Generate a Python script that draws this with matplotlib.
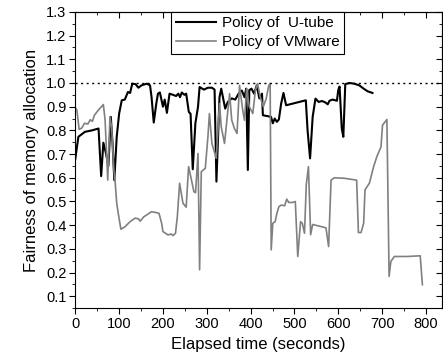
import matplotlib
matplotlib.use("Agg")
import matplotlib.pyplot as plt
from matplotlib.ticker import MultipleLocator

plt.rcParams['font.family'] = ['Liberation Sans', 'DejaVu Sans']

# Policy of U-tube (black)
utube_x = [0, 7, 22, 38, 53, 59, 64, 70, 75.5, 81, 85, 89, 94.5, 100, 106, 113, 120, 125, 130,
           137.5, 144, 151, 163, 170.5, 174, 179, 185, 188.6, 193, 200, 204, 209, 215, 223,
           230, 235, 239, 243, 249, 253, 259, 263, 268, 274, 280, 283.6, 293.5, 302.6, 311.7,
           317.8, 322, 329, 333, 342, 348, 357, 365, 372.6, 380, 386, 390, 393.7, 397, 402,
           408, 414, 420, 426, 428, 439, 446.6, 450.6, 455, 460, 464.5, 469.7, 475, 481, 496,
           511, 526, 530, 535.7, 541.6, 548, 555.4, 563, 570.5, 576, 580, 587, 597, 600, 603,
           608, 611.6, 616, 625, 636.6, 648, 658, 667, 678]
utube_y = [0.68, 0.773, 0.794, 0.80, 0.808, 0.607, 0.748, 0.703, 0.65, 0.857, 0.745, 0.59, 0.773,
           0.871, 0.927, 0.93, 0.962, 0.958, 0.997, 0.995, 0.98, 0.99, 0.997, 0.99, 0.94,
           0.833, 0.916, 0.955, 0.96, 0.90, 0.93, 0.874, 0.955, 0.95, 0.945, 0.955, 0.94,
           0.96, 0.95, 0.955, 0.878, 0.87, 0.636, 0.83, 0.90, 0.983, 0.972, 0.98, 0.98, 0.972,
           0.584, 0.94, 0.976, 0.892, 0.92, 0.935, 0.93, 0.955, 0.968, 0.94, 0.976, 0.633,
           0.97, 0.976, 0.955, 0.99, 0.935, 0.955, 0.864, 0.86, 0.857, 0.83, 0.85, 0.836,
           0.846, 0.913, 0.958, 0.906, 0.913, 0.92, 0.927, 0.80, 0.682, 0.857, 0.934, 0.92,
           0.924, 0.918, 0.91, 0.925, 0.93, 0.925, 0.97, 0.985, 0.808, 0.773, 0.995, 1.0,
           0.997, 0.99, 0.976, 0.965, 0.958]

# Policy of VMware (gray)
vmware_x = [0, 3.6, 8.7, 14.7, 21, 28.6, 34, 39, 43.6, 52.8, 64, 68, 74, 79, 83, 88, 90.6, 94.5,
            98, 104, 113, 125, 136.6, 144, 148, 156, 174, 185, 191, 197, 200, 211.6, 219, 223,
            228.6, 232.8, 238, 245.6, 253, 258.5, 264, 270.6, 274.4, 280, 283.6, 287.5, 296.6,
            302.6, 306, 311.7, 321.6, 329, 333, 340.5, 346.6, 352, 357, 363, 369, 374.7, 382,
            386, 391, 397, 405, 411, 416, 422, 429, 435.6, 441.5, 444.6, 447, 450.6, 456, 460,
            464.5, 470, 477.6, 482.5, 487, 496, 502, 507.6, 514, 518, 523, 527, 532, 537,
            541.6, 556.8, 572, 578, 583.6, 591, 614, 642, 646, 652, 658, 661, 671, 680.7, 688,
            697.5, 701, 711, 716, 720, 728, 758, 787, 792]
vmware_y = [0.896, 0.886, 0.804, 0.81, 0.83, 0.827, 0.845, 0.838, 0.864, 0.886, 0.909, 0.843,
            0.59, 0.857, 0.81, 0.633, 0.59, 0.493, 0.45, 0.383, 0.393, 0.415, 0.43, 0.427,
            0.417, 0.435, 0.457, 0.453, 0.45, 0.408, 0.373, 0.359, 0.363, 0.356, 0.366, 0.436,
            0.577, 0.493, 0.476, 0.647, 0.60, 0.541, 0.537, 0.703, 0.212, 0.626, 0.64, 0.773,
            0.871, 0.745, 0.682, 0.913, 0.815, 0.745, 0.857, 0.955, 0.843, 0.808, 0.787, 0.99,
            0.885, 0.843, 0.976, 0.90, 0.871, 0.97, 0.997, 0.94, 0.90, 0.934, 0.99, 0.997,
            0.296, 0.408, 0.415, 0.45, 0.478, 0.485, 0.482, 0.51, 0.496, 0.496, 0.50, 0.268,
            0.415, 0.408, 0.366, 0.57, 0.647, 0.36, 0.403, 0.396, 0.389, 0.31, 0.59, 0.60,
            0.598, 0.59, 0.369, 0.369, 0.408, 0.549, 0.577, 0.647, 0.689, 0.73, 0.822, 0.846,
            0.184, 0.247, 0.268, 0.268, 0.271, 0.149]

fig = plt.figure(figsize=(4.43, 3.6), dpi=100)
ax = fig.add_axes([0.170, 0.144, 0.828, 0.823])

ax.plot(utube_x, utube_y, color='black', linewidth=1.5, label='Policy of  U-tube')
ax.plot(vmware_x, vmware_y, color='#808080', linewidth=1.2, label='Policy of VMware')
ax.axhline(1.0, color='black', linestyle=(0, (1.5, 2.5)), linewidth=1.0)

ax.set_xlim(0, 837)
ax.set_ylim(0.05, 1.3)
ax.xaxis.set_major_locator(MultipleLocator(100))
ax.xaxis.set_minor_locator(MultipleLocator(50))
ax.yaxis.set_major_locator(MultipleLocator(0.1))
ax.yaxis.set_minor_locator(MultipleLocator(0.05))
ax.yaxis.set_major_formatter(matplotlib.ticker.FormatStrFormatter('%.1f'))
ax.tick_params(which='major', direction='out', length=4, labelsize=10.5, pad=2.5)
ax.tick_params(which='minor', direction='out', length=2)

# mirrored ticks pointing inward on top and right
top = ax.secondary_xaxis('top')
top.xaxis.set_major_locator(MultipleLocator(100))
top.xaxis.set_minor_locator(MultipleLocator(50))
top.tick_params(which='major', direction='in', length=4, labeltop=False)
top.tick_params(which='minor', direction='in', length=2)
right = ax.secondary_yaxis('right')
right.yaxis.set_major_locator(MultipleLocator(0.1))
right.yaxis.set_minor_locator(MultipleLocator(0.05))
right.tick_params(which='major', direction='in', length=4, labelright=False)
right.tick_params(which='minor', direction='in', length=2)

ax.set_xlabel('Elapsed time (seconds)', fontsize=12, labelpad=4)
ax.set_ylabel('Fairness of memory allocation', fontsize=12, labelpad=5)

leg = ax.legend(loc='upper left', bbox_to_anchor=(0.262, 1.0), fontsize=11,
                frameon=True, fancybox=False, edgecolor='black', framealpha=1,
                borderpad=0.3, labelspacing=0.3, handlelength=2.6, handletextpad=0.4,
                borderaxespad=0)
leg.get_frame().set_linewidth(0.8)

fig.savefig('out.png', dpi=100)
